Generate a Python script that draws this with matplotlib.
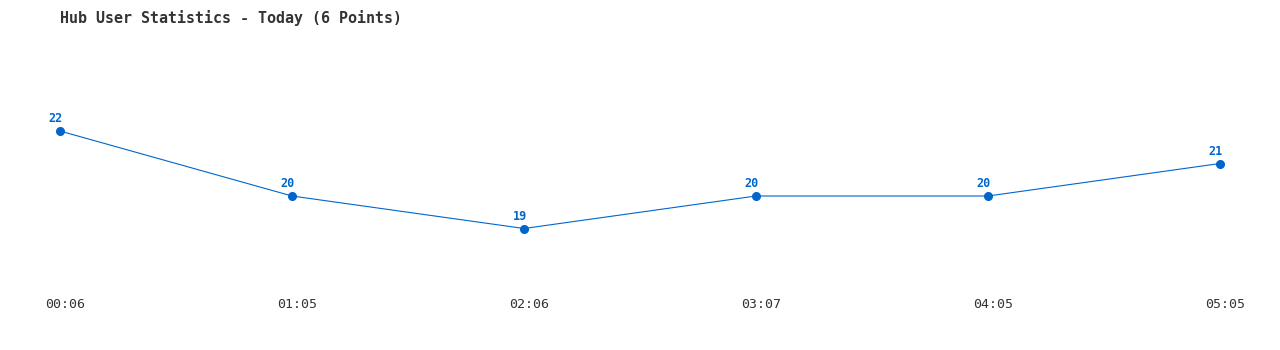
import matplotlib
matplotlib.use("Agg")
import matplotlib.pyplot as plt
import matplotlib.transforms as mtransforms

times = ["00:06", "01:05", "02:06", "03:07", "04:05", "05:05"]
users = [22, 20, 19, 20, 20, 21]

line_color = "#0066cc"
text_color = "#333333"
mono = ["DejaVu Sans Mono", "Liberation Mono"]

fig = plt.figure(figsize=(12.8, 3.5), dpi=100)
ax = fig.add_axes([60 / 1280, 1 - 261 / 350, 1160 / 1280, 162.5 / 350])

x = list(range(len(times)))
ax.plot(x, users, color=line_color, linewidth=0.8, marker="o", markersize=5.5,
        clip_on=False)

for xi, v in zip(x, users):
    ax.annotate(str(v), (xi, v), xytext=(-3, 4), textcoords="offset points",
                ha="center", va="bottom", fontsize=8.5, fontweight="bold",
                color=line_color, family=mono)

ax.set_xlim(0, len(times) - 1)
ax.set_ylim(18, 23)
ax.set_xticks(x)
ax.set_xticklabels(times, family=mono, fontsize=9.5, color=text_color)
ax.tick_params(axis="x", length=0, pad=27)
shift = mtransforms.ScaledTranslation(5 / 100, 0, fig.dpi_scale_trans)
for lbl in ax.get_xticklabels():
    lbl.set_transform(lbl.get_transform() + shift)
ax.set_yticks([])
for s in ax.spines.values():
    s.set_visible(False)

fig.text(60 / 1280, 1 - 18 / 350, "Hub User Statistics - Today (6 Points)",
         family=mono, fontsize=10.8, fontweight="bold", color=text_color,
         ha="left", va="center")

fig.savefig("out.png", dpi=100)
